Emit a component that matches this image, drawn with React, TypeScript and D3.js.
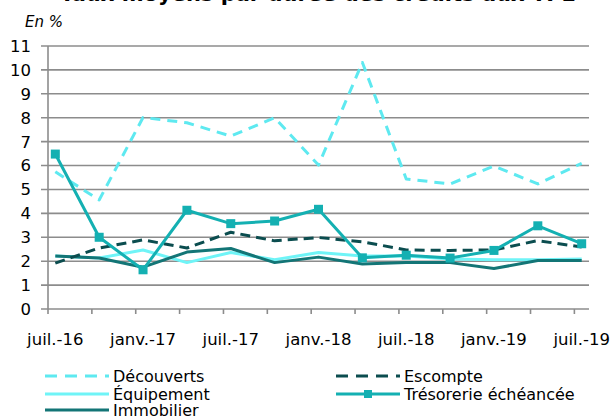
import React from 'react';
import * as d3 from 'd3';

// quarterly observations, juil. 2016 -> juil. 2019
const quarters = [
  '2016-07', '2016-10', '2017-01', '2017-04', '2017-07', '2017-10', '2018-01',
  '2018-04', '2018-07', '2018-10', '2019-01', '2019-04', '2019-07',
];

const decouverts = [5.74, 4.56, 8.01, 7.79, 7.23, 8.0, 6.02, 10.31, 5.44, 5.23, 5.98, 5.23, 6.09];
const escompte = [1.92, 2.55, 2.89, 2.55, 3.21, 2.85, 2.99, 2.81, 2.47, 2.45, 2.47, 2.86, 2.59];
const equipement = [2.22, 2.13, 2.47, 1.94, 2.36, 2.06, 2.36, 2.22, 2.22, 2.09, 2.06, 2.06, 2.09];
const tresorerie = [6.48, 3.0, 1.64, 4.13, 3.57, 3.68, 4.17, 2.14, 2.25, 2.13, 2.45, 3.48, 2.73];
const immobilier = [2.22, 2.13, 1.75, 2.38, 2.53, 1.94, 2.17, 1.88, 1.94, 1.94, 1.69, 2.03, 2.03];

const xLabels = ['juil.-16', 'janv.-17', 'juil.-17', 'janv.-18', 'juil.-18', 'janv.-19', 'juil.-19'];
const yTicks = [0, 1, 2, 3, 4, 5, 6, 7, 8, 9, 10, 11];

const series = [
  { name: 'Découverts', values: decouverts, color: '#5ee9f0', dash: '10,7', marker: false },
  { name: 'Escompte', values: escompte, color: '#0b4d4f', dash: '10,6', marker: false },
  { name: 'Équipement', values: equipement, color: '#6ff4f7', dash: null, marker: false },
  { name: 'Trésorerie échéancée', values: tresorerie, color: '#14b0b2', dash: null, marker: true },
  { name: 'Immobilier', values: immobilier, color: '#137576', dash: null, marker: false },
];

const W = 615;
const H = 416;
const font = '"DejaVu Sans", Verdana, sans-serif';

// month offset from juil. 2016
const monthIdx = (q: string) => {
  const [y, m] = q.split('-').map(Number);
  return (y - 2016) * 12 + (m - 7);
};

export default function App() {
  const x = d3.scaleLinear().domain([0, 37]).range([48, 589]);
  const y = d3.scaleLinear().domain([0, 11]).range([309, 46]);

  const xTickMonths = d3.range(0, 37, 3);
  const line = (vals: number[]) =>
    d3
      .line<number>()
      .x((d, i) => x(monthIdx(quarters[i]) + 0.5))
      .y((d) => y(d))(vals) as string;

  // draw order: back to front
  const order = [2, 4, 1, 0, 3];

  const legend = [
    { s: series[0], lx: 45, ly: 376 },
    { s: series[1], lx: 336, ly: 376 },
    { s: series[2], lx: 45, ly: 394 },
    { s: series[3], lx: 336, ly: 394 },
    { s: series[4], lx: 45, ly: 410 },
  ];

  return (
    <svg
      width={W}
      height={H}
      style={{ position: 'absolute', left: 0, top: 0, background: '#fff' }}
      fontFamily={font}
    >
      {/* title, cut by the top edge */}
      <text x={318} y={0.5} textAnchor="middle" fontSize={21} fontWeight="bold" fill="#000">
        Taux moyens par durée des crédits aux TPE
      </text>
      <text x={25} y={27} fontSize={15} fontStyle="italic" fill="#000">
        En %
      </text>

      {/* gridlines */}
      {yTicks.map((t) => (
        <line key={t} x1={41} x2={589} y1={y(t)} y2={y(t)} stroke="#8c8c8c" strokeWidth={1.6} />
      ))}
      <line x1={48} x2={48} y1={y(11)} y2={y(0)} stroke="#8c8c8c" strokeWidth={1.6} />
      {xTickMonths.map((m) => (
        <line key={m} x1={x(m)} x2={x(m)} y1={y(0)} y2={y(0) + 5} stroke="#8c8c8c" strokeWidth={1.6} />
      ))}

      {yTicks.map((t) => (
        <text key={t} x={31} y={y(t)} dy="0.36em" textAnchor="end" fontSize={16.5} fill="#000">
          {t}
        </text>
      ))}
      {xLabels.map((l, i) => (
        <text key={l} x={x(i * 6 + 0.5)} y={345} textAnchor="middle" fontSize={16.5} fill="#000">
          {l}
        </text>
      ))}

      {order.map((k) => {
        const s = series[k];
        return (
          <g key={s.name}>
            <path
              d={line(s.values)}
              fill="none"
              stroke={s.color}
              strokeWidth={3}
              strokeDasharray={s.dash ?? undefined}
              strokeLinejoin="round"
            />
            {s.marker &&
              s.values.map((v, i) => (
                <rect
                  key={i}
                  x={x(monthIdx(quarters[i]) + 0.5) - 4.5}
                  y={y(v) - 4.5}
                  width={9}
                  height={9}
                  fill={s.color}
                />
              ))}
          </g>
        );
      })}

      {/* legend */}
      {legend.map(({ s, lx, ly }) => (
        <g key={s.name}>
          <line
            x1={lx}
            x2={lx + 64}
            y1={ly}
            y2={ly}
            stroke={s.color}
            strokeWidth={3}
            strokeDasharray={s.dash ? '12,8' : undefined}
          />
          {s.marker && <rect x={lx + 32 - 4} y={ly - 4} width={8} height={8} fill={s.color} />}
          <text x={lx + 68} y={ly} dy="0.36em" fontSize={16} fill="#000">
            {s.name}
          </text>
        </g>
      ))}
    </svg>
  );
}
